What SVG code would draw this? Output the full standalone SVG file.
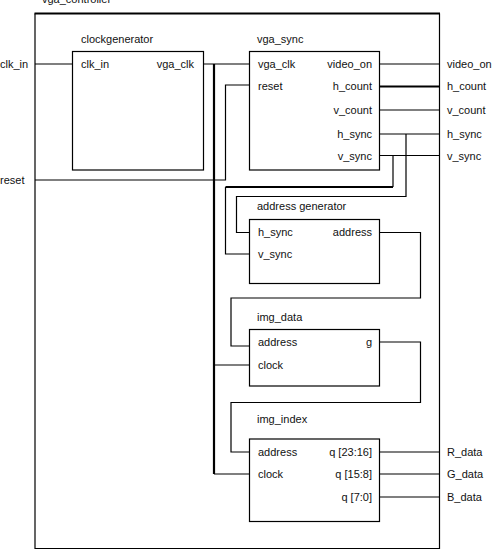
<svg xmlns="http://www.w3.org/2000/svg" width="492" height="554" viewBox="0 0 492 554">
<style>
text{font-family:"Liberation Sans",Arial,sans-serif;font-size:11px;fill:#111}
.box{fill:#fff;stroke:#000;stroke-width:1.2}
.w{fill:none;stroke:#000;stroke-width:1.2}
.t{fill:none;stroke:#000;stroke-width:2.2}
.r{text-anchor:end}
</style>
<rect width="492" height="554" fill="#fff"/>
<g id="vga_controller">
<text x="42" y="3">vga_controller</text>
<path class="w" d="M35 13.5V548.5H439.5V13.5"/>
<path class="t" d="M34.5 13.5H440"/>
<text x="0" y="68">clk_in</text>
<text x="0" y="184">reset</text>
<text x="447" y="68">video_on</text>
<text x="447" y="90">h_count</text>
<text x="447" y="114">v_count</text>
<text x="447" y="138">h_sync</text>
<text x="447" y="160">v_sync</text>
<text x="447" y="456">R_data</text>
<text x="447" y="478">G_data</text>
<text x="447" y="501">B_data</text>
</g>
<g id="connectors">
<path class="w" d="M35 64H72.5"/>
<path class="w" d="M203.5 64H249.5"/>
<path class="t" d="M214 64V474"/>
<path class="w" d="M35 180H225.5V85H249.5"/>
<path class="w" d="M379.5 64H439.5"/>
<path class="t" d="M379.5 86.5H439.5"/>
<path class="w" d="M379.5 110H439.5"/>
<path class="w" d="M379.5 134H439.5"/>
<path class="w" d="M379.5 155.5H439.5"/>
<path class="w" d="M406 134V196.5H236.5V232.5H249.5"/>
<path class="w" d="M393 155.5V187"/>
<path class="t" d="M393 187H225.5"/>
<path class="w" d="M225.5 187V254H249.5"/>
<path class="w" d="M379.5 232.5H420.5V298H231V346H249.5"/>
<path class="w" d="M214 365H249.5"/>
<path class="w" d="M379.5 342H420.5V402.5H231V452H249.5"/>
<path class="w" d="M214 474H249.5"/>
<path class="w" d="M379.5 452H439.5"/>
<path class="w" d="M379.5 474H439.5"/>
<path class="w" d="M379.5 497H439.5"/>
</g>
<g id="clockgenerator">
<text x="81" y="43">clockgenerator</text>
<rect class="box" x="72.5" y="51.5" width="131" height="118.5"/>
<text x="81" y="68">clk_in</text>
<text class="r" x="194" y="68">vga_clk</text>
</g>
<g id="vga_sync">
<text x="257" y="43">vga_sync</text>
<rect class="box" x="249.5" y="51.5" width="130" height="118.5"/>
<text x="258" y="68">vga_clk</text>
<text x="258" y="90">reset</text>
<text class="r" x="372" y="68">video_on</text>
<text class="r" x="372" y="90">h_count</text>
<text class="r" x="372" y="114">v_count</text>
<text class="r" x="372" y="138">h_sync</text>
<text class="r" x="372" y="160">v_sync</text>
</g>
<g id="address_generator">
<text x="257" y="210">address generator</text>
<rect class="box" x="249.5" y="219.5" width="130" height="64"/>
<text x="258" y="236">h_sync</text>
<text x="258" y="258">v_sync</text>
<text class="r" x="372" y="236">address</text>
</g>
<g id="img_data">
<text x="257" y="321">img_data</text>
<rect class="box" x="249.5" y="329.5" width="130" height="56.5"/>
<text x="258" y="346">address</text>
<text x="258" y="369">clock</text>
<text class="r" x="372" y="346">g</text>
</g>
<g id="img_index">
<text x="257" y="423">img_index</text>
<rect class="box" x="249.5" y="439" width="130" height="82.5"/>
<text x="258" y="456">address</text>
<text x="258" y="478">clock</text>
<text class="r" x="372" y="456">q [23:16]</text>
<text class="r" x="372" y="478">q [15:8]</text>
<text class="r" x="372" y="501">q [7:0]</text>
</g>
</svg>
